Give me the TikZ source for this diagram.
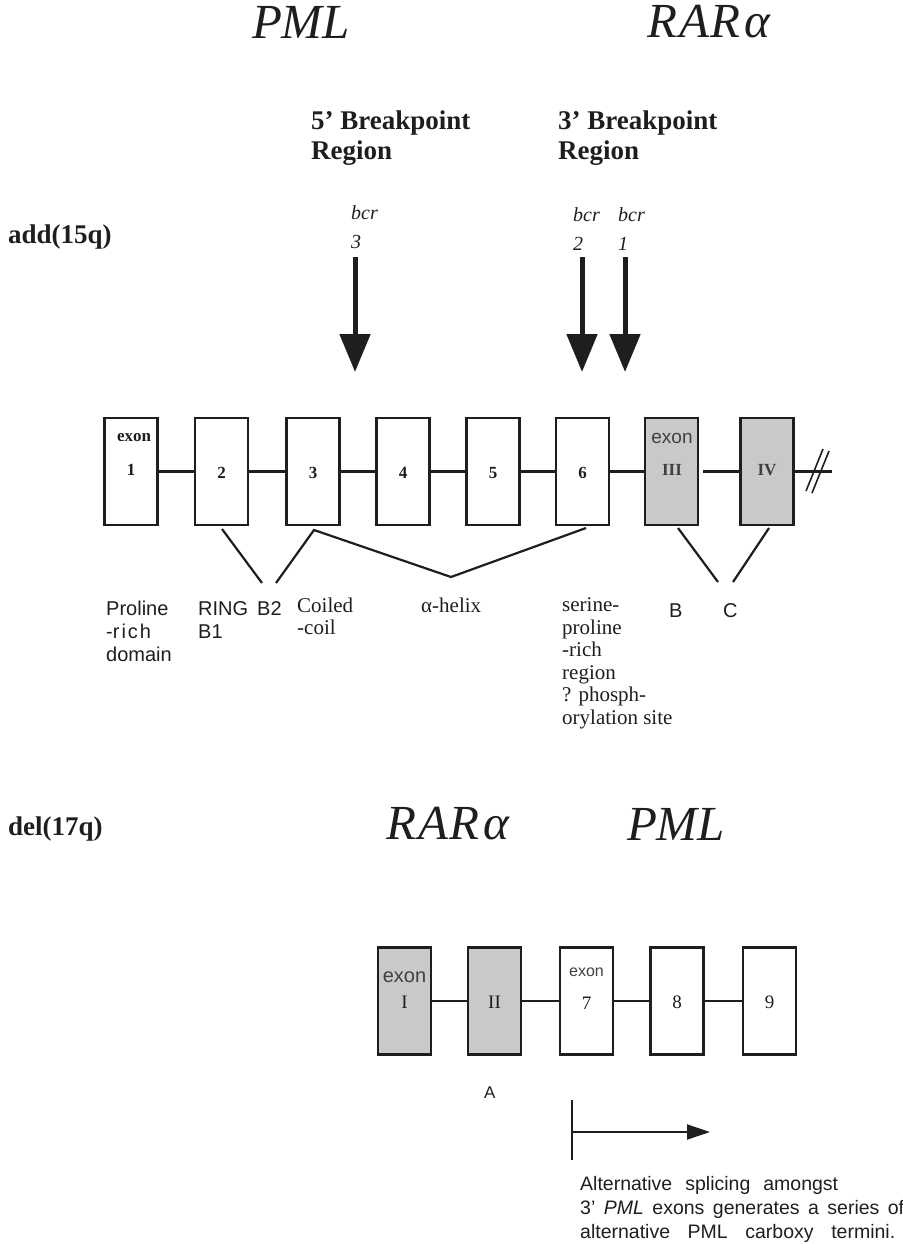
\documentclass[tikz,border=0pt]{standalone}
\usepackage{fontspec}
\setmainfont{Liberation Serif}
\setsansfont{Liberation Sans}
\usetikzlibrary{arrows.meta}
\definecolor{ink}{HTML}{1E1E1E}
\definecolor{exgrey}{HTML}{C9C9C9}
\tikzset{
  exonbox/.style={draw=ink, line width=2.6pt, minimum width=53pt, minimum height=107pt, inner sep=0pt, fill=white},
  greybox/.style={exonbox, fill=exgrey},
  link/.style={draw=ink, line width=2.6pt},
  dom/.style={draw=ink, line width=2.2pt},
  bigarrow/.style={draw=ink, line width=5pt, -{Triangle[length=38pt,width=30pt]}},
  smallarrow/.style={draw=ink, line width=2pt, -{Triangle[length=23pt,width=15pt]}},
  title/.style={font=\itshape\fontsize{49}{50}\selectfont, text=ink, inner sep=0pt},
  head/.style={font=\bfseries\fontsize{27}{30}\selectfont, text=ink, inner sep=0pt, anchor=base west},
  bcrlbl/.style={font=\itshape\fontsize{20}{24}\selectfont, text=ink, inner sep=0pt, anchor=base west},
  exlbl/.style={font=\bfseries\fontsize{17}{20}\selectfont, text=ink, inner sep=0pt},
  exsans/.style={font=\sffamily\fontsize{19}{22}\selectfont, text=ink!85, inner sep=0pt},
  numlbl/.style={font=\fontsize{19}{22}\selectfont, text=ink, inner sep=0pt},
  slbl/.style={font=\sffamily\fontsize{20}{23}\selectfont, text=ink, inner sep=0pt, anchor=base west},
  rlbl/.style={font=\fontsize{21}{23}\selectfont, text=ink, inner sep=0pt, anchor=base west},
  note/.style={font=\sffamily\fontsize{19.5}{24}\selectfont, text=ink, inner sep=0pt, anchor=base west},
}
\begin{document}
\begin{tikzpicture}[x=1pt,y=-1pt]
\useasboundingbox (0,0) rectangle (902,1244);

% ---- titles ----
\node[title] (tPML) at (301,22) {PML};
\node[title] (tRAR) at (709,22) {R\kern1.5pt A\kern1.5pt R\kern4pt α};

\node[head] (h5a) at (311,130) {5' Breakpoint};
\node[head] (h5b) at (311,159) {Region};
\node[head] (h3a) at (558,130) {3' Breakpoint};
\node[head] (h3b) at (558,159) {Region};

\node[head] (add) at (8,243) {add(15q)};

% ---- bcr labels and arrows ----
\node[bcrlbl] (bcr3a) at (351,219) {bcr};
\node[bcrlbl] (bcr3b) at (351,248) {3};
\node[bcrlbl] (bcr2a) at (573,221) {bcr};
\node[bcrlbl] (bcr2b) at (573,250) {2};
\node[bcrlbl] (bcr1a) at (618,221) {bcr};
\node[bcrlbl] (bcr1b) at (618,250) {1};

\coordinate (a3s) at (355,257); \coordinate (a3e) at (355,372);
\coordinate (a2s) at (582,257); \coordinate (a2e) at (582,372);
\coordinate (a1s) at (625,257); \coordinate (a1e) at (625,372);
\draw[bigarrow] (a3s) -- (a3e);
\draw[bigarrow] (a2s) -- (a2e);
\draw[bigarrow] (a1s) -- (a1e);

% ---- row 1 exons ----
\node[exonbox] (e1) at (131,471.5) {};
\node[exonbox] (e2) at (221.5,471.5) {};
\node[exonbox] (e3) at (313,471.5) {};
\node[exonbox] (e4) at (403,471.5) {};
\node[exonbox] (e5) at (493,471.5) {};
\node[exonbox] (e6) at (582.5,471.5) {};
\node[greybox] (eIII) at (671.5,471.5) {};
\node[greybox] (eIV) at (767,471.5) {};

\draw[link] (e1) -- (e2);
\draw[link] (e2) -- (e3);
\draw[link] (e3) -- (e4);
\draw[link] (e4) -- (e5);
\draw[link] (e5) -- (e6);
\draw[link] (e6) -- (eIII);
\coordinate (gapIII) at (703,471.5);
\draw[link] (gapIII) -- (eIV.west);
\coordinate (lineend) at (832,471.5);
\draw[link] (eIV.east) -- (lineend);
\coordinate (sl1a) at (806,491); \coordinate (sl1b) at (823,449);
\coordinate (sl2a) at (812,493); \coordinate (sl2b) at (829,451);
\draw[draw=ink, line width=1.6pt] (sl1a) -- (sl1b);
\draw[draw=ink, line width=1.6pt] (sl2a) -- (sl2b);

\node[exlbl] (x1) at (134,438) {exon};
\node[exlbl] (n1) at (131,470) {1};
\node[exlbl] (n2) at (221.5,473) {2};
\node[exlbl] (n3) at (313,473) {3};
\node[exlbl] (n4) at (403,473) {4};
\node[exlbl] (n5) at (493,473) {5};
\node[exlbl] (n6) at (582.5,473) {6};
\node[exsans] (xIII) at (672,438) {exon};
\node[exlbl, text=ink!85] (nIII) at (672,470) {III};
\node[exlbl, text=ink!85] (nIV) at (767,470) {IV};

% ---- domain connectors ----
\coordinate (d2a) at (222,529); \coordinate (d2b) at (262,583);
\coordinate (d3b) at (276,583); \coordinate (d3a) at (314,530);
\coordinate (hv) at (451,577); \coordinate (d6a) at (586,528);
\coordinate (dIIIa) at (678,528); \coordinate (dB) at (718,582);
\coordinate (dC) at (733,582); \coordinate (dIVa) at (769,528);
\draw[dom] (d2a) -- (d2b);
\draw[dom] (d3b) -- (d3a) -- (hv) -- (d6a);
\draw[dom] (dIIIa) -- (dB);
\draw[dom] (dC) -- (dIVa);

% ---- domain labels ----
\node[slbl] (lp1) at (106,615) {Proline};
\node[slbl] (lp2) at (106,638) {-r\kern2pt i\kern2pt c\kern2pt h};
\node[slbl] (lp3) at (106,661) {domain};
\node[slbl] (lr1) at (198,615) {RING};
\node[slbl] (lr2) at (198,638) {B1};
\node[slbl] (lb2) at (257,615) {B2};
\node[rlbl] (lc1) at (297,612) {Coiled};
\node[rlbl] (lc2) at (297,634) {-coil};
\node[rlbl] (lah) at (421,612) {α-helix};
\node[rlbl] (ls1) at (562,611) {serine-};
\node[rlbl] (ls2) at (562,634) {proline};
\node[rlbl] (ls3) at (562,656) {-rich};
\node[rlbl] (ls4) at (562,679) {region};
\node[rlbl] (ls5) at (562,701) {? phosph-};
\node[rlbl] (ls6) at (562,724) {orylation site};
\node[slbl] (lB) at (669,617) {B};
\node[slbl] (lC) at (723,617) {C};

% ---- del(17q) ----
\node[head] (del) at (8,835) {del(17q)};
\node[title] (bRAR) at (448,824) {R\kern1.5pt A\kern1.5pt R\kern4pt α};
\node[title] (bPML) at (676,824) {PML};

\node[greybox] (rI) at (404.5,1001) {};
\node[greybox] (rII) at (494.5,1001) {};
\node[exonbox] (r7) at (586.5,1001) {};
\node[exonbox] (r8) at (677,1001) {};
\node[exonbox] (r9) at (769.5,1001) {};
\draw[link] (rI) -- (rII);
\draw[link] (rII) -- (r7);
\draw[link] (r7) -- (r8);
\draw[link] (r8) -- (r9);

\node[exsans, font=\sffamily\fontsize{20}{22}\selectfont] (xI) at (404.5,977) {exon};
\node[numlbl] (nI) at (404.5,1002) {I};
\node[numlbl] (nII) at (494.5,1002) {II};
\node[exsans, font=\sffamily\fontsize{16}{18}\selectfont] (x7) at (586.5,972) {exon};
\node[numlbl] (n7) at (586.5,1003) {7};
\node[numlbl] (n8) at (677,1002) {8};
\node[numlbl] (n9) at (769.5,1002) {9};

\node[slbl, font=\sffamily\fontsize{17}{20}\selectfont] (lA) at (484,1098) {A};

% ---- splicing bracket ----
\coordinate (brtop) at (572,1100); \coordinate (brbot) at (572,1160);
\coordinate (brmid) at (572,1132); \coordinate (brtip) at (710,1132);
\draw[draw=ink, line width=2.4pt] (brtop) -- (brbot);
\draw[smallarrow] (brmid) -- (brtip);

\node[note] (t1) at (580,1190) {\makebox[258pt][s]{Alternative splicing amongst}};
\node[note] (t2) at (580,1214) {\makebox[324pt][s]{3' \textit{PML} exons generates a series of}};
\node[note] (t3) at (580,1238) {\makebox[315pt][s]{alternative PML carboxy termini.}};
\end{tikzpicture}
\end{document}
